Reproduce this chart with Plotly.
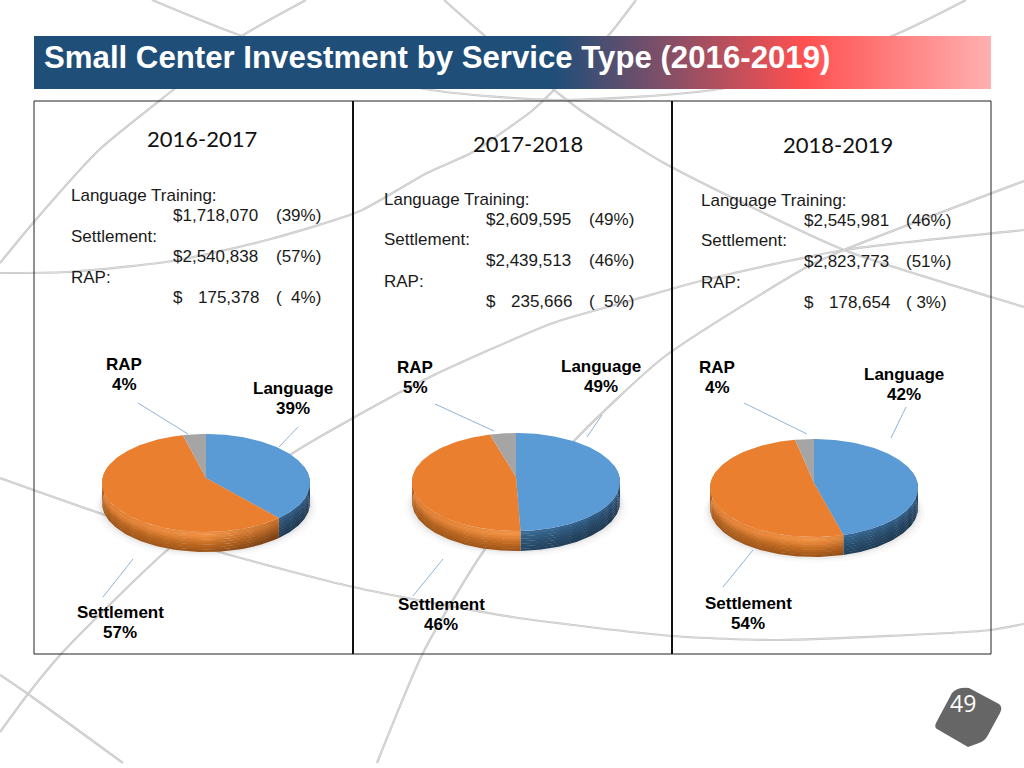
import math
import numpy as np
import plotly.graph_objects as go

# ---- data ----
title = "Small Center Investment by Service Type (2016-2019)"
periods = ["2016-2017", "2017-2018", "2018-2019"]
row_names = ["Language Training:", "Settlement:", "RAP:"]
language_amounts = [1718070, 2609595, 2545981]
settlement_amounts = [2540838, 2439513, 2823773]
rap_amounts = [175378, 235666, 178654]
language_table_pct = ["(39%)", "(49%)", "(46%)"]
settlement_table_pct = ["(57%)", "(46%)", "(51%)"]
rap_table_pct = ["(\u00a0\u00a04%)", "(\u00a0\u00a05%)", "(\u00a03%)"]
language_labels = ["39%", "49%", "42%"]
settlement_labels = ["57%", "46%", "54%"]
rap_labels = ["4%", "5%", "4%"]
page_number = "49"

# ---- layout helpers ----
W, H = 1024, 768
FONT = "Liberation Sans"
centers = [(206, 478), (516, 477), (814, 483)]
RX, C, K, DEPTH = 103.5, 48.5, 0.102, 20

table_x = [(71, 173, 276), (384, 486, 589), (701, 804, 906)]
table_y = [[195, 215.5, 236, 256.5, 277, 297],
           [199, 219, 239.5, 260, 281, 301],
           [200, 220.5, 240.5, 261.5, 282, 302]]
header_pos = [(201.5, 138), (527.5, 143), (837.5, 144)]
label_pos = [
    [(292.5, 388), (120, 612), (124, 364)],
    [(601, 366), (441, 604), (415, 367)],
    [(903.5, 374), (748, 603), (717, 367)],
]
leaders = [
    [((298, 427), (279, 447)), ((133, 559), (103, 597)), ((138, 403), (188, 434))],
    [((602, 415), (587, 437)), ((443, 559), (413, 596)), ((435, 404), (494, 431))],
    [((906, 407), (891, 438)), ((753, 550), (723, 587)), ((744, 403), (807, 434))],
]
background_curves = [
    [(152, 0), (242, 36), (425, 89), (555, 100), (719, 89), (892, 36), (966, 0)],
    [(306, 0), (242, 36), (173, 90), (100, 149), (33, 223), (0, 263)],
    [(0, 273), (67, 272), (173, 261), (267, 240), (360, 211), (427, 173), (473, 152), (533, 110), (554, 90), (608, 36), (636, 0)],
    [(444, 0), (485, 36), (554, 90), (580, 110), (664, 163), (844, 250), (991, 297), (1024, 307)],
    [(0, 478), (105, 515), (223, 553), (353, 587), (512, 617), (672, 636), (779, 640), (991, 630), (1024, 624)],
    [(0, 732), (28, 694), (62, 653), (165, 552), (293, 453), (353, 418), (430, 377), (553, 323), (633, 300), (704, 280), (844, 250), (1024, 230)],
    [(377, 763), (423, 653), (483, 552), (573, 442), (664, 357), (807, 267), (844, 250), (1024, 181)],
    [(0, 675), (28, 694), (123, 763)],
]

fig = go.Figure()


def poly(xs, ys, **kw):
    fig.add_trace(go.Scatter(x=xs, y=ys, mode="lines", fill="toself", line=dict(width=0),
                             hoverinfo="skip", showlegend=False, **kw))


for curve in background_curves:
    for col, wd in (("#C4C4C4", 2.2), ("#EFEFEF", 0.6)):
        fig.add_trace(go.Scatter(x=[p[0] for p in curve], y=[p[1] for p in curve], mode="lines",
                                 line=dict(color=col, width=wd, shape="spline", smoothing=0.6),
                                 hoverinfo="skip", showlegend=False))

# title band with a horizontal gradient
poly([34, 991, 991, 34], [36, 36, 89, 89],
     fillgradient=dict(type="horizontal", start=34, stop=991,
                       colorscale=[[0, "#1F4E79"], [0.544, "#1F4E79"], [0.805, "#FF5050"], [1, "#FFB0B0"]]))


def rim(cx, cy, t):
    """Project angle(s) t (clockwise from the back of the disc) onto the tilted disc."""
    u, v = np.sin(t), np.cos(t)
    d = 1 + K * v
    return cx + RX * u / d, cy - C * v / d


def hex2rgb(h):
    return np.array([int(h[j:j + 2], 16) for j in (1, 3, 5)], dtype=float)


def rgb(a):
    return "rgb(%d,%d,%d)" % tuple(np.round(a))


SLICE_FACE = ["#5B9BD5", "#E97F2F", "#A5A5A5"]
WALL_F = [0.0, 0.22, 0.6, 1.0]
WALL = {
    0: [("#4A80B2", "#3E709F", "#2F5C86"), ("#3E709F", "#35648C", "#284E70"),
        ("#2C5577", "#2A5273", "#223F5C"), ("#264A69", "#234561", "#1C354C")],
    1: [("#DD7A2E", "#EF9348", "#B86422"), ("#E08035", "#F08F40", "#A85A1C"),
        ("#B0601E", "#C46C20", "#84461A"), ("#A0561A", "#9A5218", "#5E3210")],
}
N_BANDS = 8


def wall_colors(s, f):
    stops = []
    for h in range(3):
        vals = np.array([hex2rgb(row[h]) for row in WALL[s]])
        stops.append(rgb([np.interp(f, WALL_F, vals[:, c]) for c in range(3)]))
    return [[0, stops[0]], [0.5, stops[1]], [1, stops[2]]]


for i, (cx, cy) in enumerate(centers):
    values = [language_amounts[i], settlement_amounts[i], rap_amounts[i]]
    edges = np.cumsum([0] + values) / sum(values) * 2 * math.pi

    # soft shadow under the disc
    t = np.linspace(0, 2 * math.pi, 200)
    for grow, op in [(7, 0.025), (4, 0.035), (2, 0.05)]:
        x, y = rim(cx, cy, t)
        poly(list(cx + (x - cx) * (1 + grow / 105)), list(y + DEPTH + grow * 0.8),
             fillcolor=f"rgba(60,60,60,{op})")

    # side wall, drawn per slice for the part of the rim facing the viewer
    for s in (0, 1):
        a, b = max(edges[s], math.radians(75)), min(edges[s + 1], math.radians(285))
        if a >= b:
            continue
        tt = np.linspace(a, b, 90)
        x, y = rim(cx, cy, tt)
        for n in range(N_BANDS):
            f0, f1 = n / N_BANDS, (n + 1) / N_BANDS
            poly(list(x) + list(x[::-1]),
                 list(y + f0 * DEPTH) + list(y[::-1] + f1 * DEPTH + (0.4 if n < N_BANDS - 1 else 0)),
                 fillgradient=dict(type="horizontal", start=cx - RX, stop=cx + RX,
                                   colorscale=wall_colors(s, (f0 + f1) / 2)))

    # top face
    for s in range(3):
        tt = np.linspace(edges[s], edges[s + 1], 120)
        x, y = rim(cx, cy, tt)
        poly([cx] + list(x) + [cx], [cy] + list(y) + [cy], fillcolor=SLICE_FACE[s])

    # leader lines
    for (p0, p1) in leaders[i]:
        fig.add_trace(go.Scatter(x=[p0[0], p1[0]], y=[p0[1], p1[1]], mode="lines",
                                 line=dict(color="#8FB4D6", width=1),
                                 hoverinfo="skip", showlegend=False))

# page badge
shapes = [
    dict(type="path", xref="x", yref="y", fillcolor="#666666", line=dict(width=0), layer="above",
         path="M 952 693 Q 957 687 969 688 L 999 704 Q 1003 707 1000 713 L 988 735 Q 985 741 979 743 "
              "L 968 747 L 937 729 Q 934 727 936 723 Z"),
    dict(type="rect", xref="x", yref="y", x0=34, y0=101, x1=991, y1=654,
         line=dict(color="#222222", width=1), layer="above"),
    dict(type="line", xref="x", yref="y", x0=353, y0=101, x1=353, y1=654,
         line=dict(color="#111111", width=2), layer="above"),
    dict(type="line", xref="x", yref="y", x0=672, y0=101, x1=672, y1=654,
         line=dict(color="#111111", width=2), layer="above"),
]

ann = []


def text(x, y, s, size, anchor="left", family=FONT, color="#1a1a1a", bold=False):
    ann.append(dict(x=x, y=y, xref="x", yref="y", text=f"<b>{s}</b>" if bold else s, showarrow=False,
                    xanchor=anchor, yanchor="middle", align=anchor, borderpad=0, borderwidth=0,
                    font=dict(family=family, size=size, color=color)))


text(44, 57, title, 31.2, color="#FFFFFF", bold=True)
text(963, 703, page_number, 23, anchor="center", family="Open Sans", color="#FFFFFF")

for i in range(3):
    text(header_pos[i][0], header_pos[i][1], periods[i], 22, anchor="center", family="Lato", color="#111111")
    amts = [language_amounts[i], settlement_amounts[i], rap_amounts[i]]
    pcts = [language_table_pct[i], settlement_table_pct[i], rap_table_pct[i]]
    x0, x1, x2 = table_x[i]
    for r in range(3):
        text(x0, table_y[i][2 * r], row_names[r], 17)
        amt = f"{amts[r]:,}"
        if amts[r] < 1000000:
            text(x1, table_y[i][2 * r + 1], "$", 17)
            text(x1 + 85.5, table_y[i][2 * r + 1], amt, 17, anchor="right")
        else:
            text(x1, table_y[i][2 * r + 1], "$" + amt, 17)
        text(x2, table_y[i][2 * r + 1], pcts[r], 17)
    names = ["Language", "Settlement", "RAP"]
    labels = [language_labels[i], settlement_labels[i], rap_labels[i]]
    for n in range(3):
        lx, ly = label_pos[i][n]
        text(lx, ly, names[n], 17, anchor="center", color="#000000", bold=True)
        text(lx, ly + 20, labels[n], 17, anchor="center", color="#000000", bold=True)

fig.update_layout(
    width=W, height=H, margin=dict(l=0, r=0, t=0, b=0), showlegend=False,
    paper_bgcolor="#FFFFFF", plot_bgcolor="#FFFFFF",
    xaxis=dict(range=[0, W], visible=False, fixedrange=True),
    yaxis=dict(range=[H, 0], visible=False, fixedrange=True),
    shapes=shapes, annotations=ann,
)
fig.write_html("out.html", config={"displayModeBar": False},
               post_script="document.body.style.margin='0';document.documentElement.style.overflow='hidden';")
